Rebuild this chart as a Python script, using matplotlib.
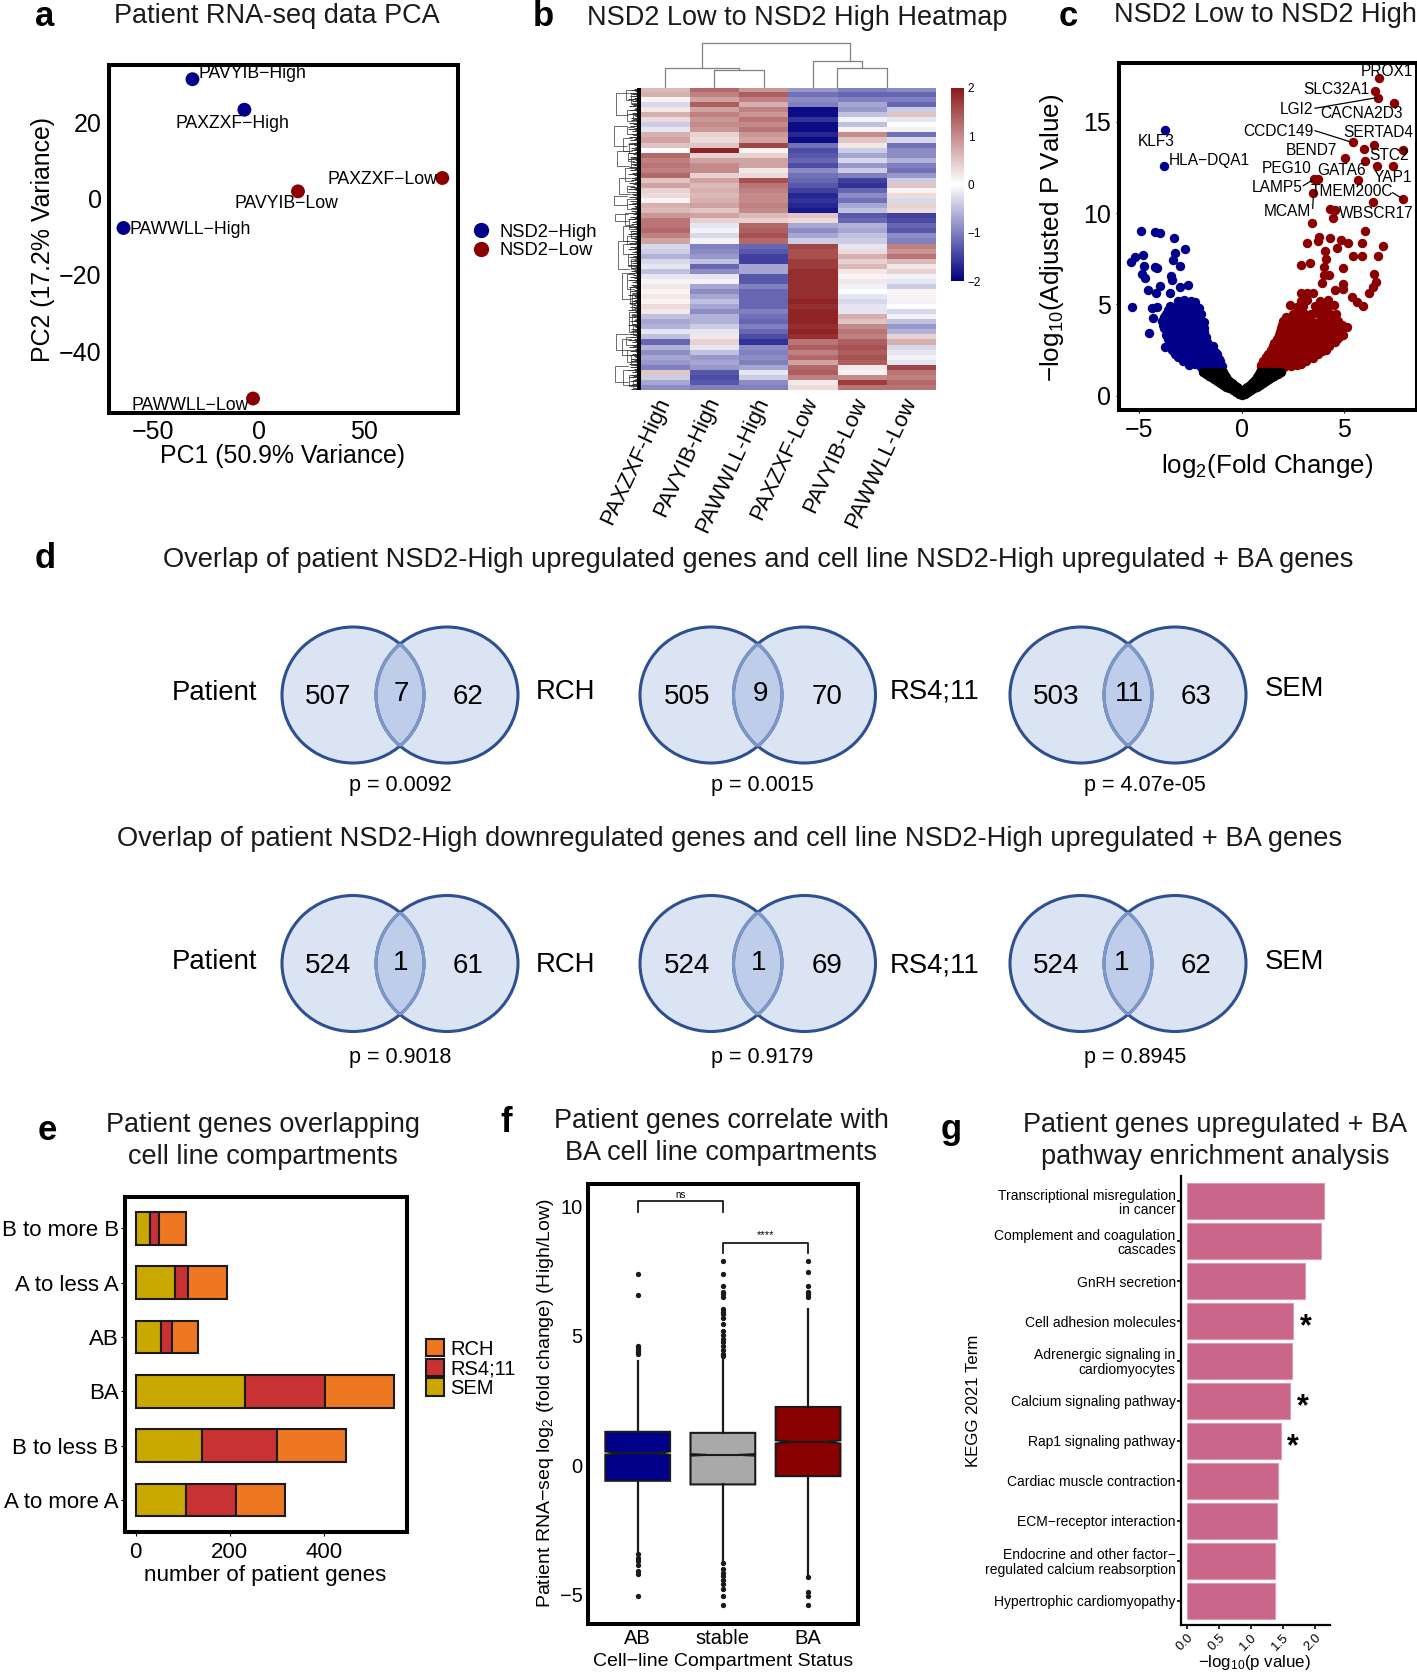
import numpy as np
import matplotlib
matplotlib.use("Agg")
import matplotlib.pyplot as plt
from matplotlib.colors import LinearSegmentedColormap
from matplotlib.lines import Line2D
from matplotlib.patches import Ellipse, Patch
from matplotlib.transforms import ScaledTranslation

plt.rcParams['font.family'] = ['Liberation Sans', 'DejaVu Sans']
plt.rcParams['mathtext.fontset'] = 'custom'
plt.rcParams['mathtext.rm'] = 'Liberation Sans'
plt.rcParams['mathtext.default'] = 'regular'

W, H = 1417, 1672
NAVY, DRED = '#00008B', '#8B0000'

# a: PCA
pca_names = ['PAVYIB−High', 'PAXZXF−High', 'PAWWLL−High', 'PAXZXF−Low', 'PAVYIB−Low', 'PAWWLL−Low']
pca_x = [-31.3, -6.7, -64.0, 87.1, 18.7, -2.6]
pca_y = [31.3, 23.3, -7.7, 5.4, 1.9, -52.4]
pca_col = [NAVY, NAVY, NAVY, DRED, DRED, DRED]

# b: heatmap rows, one list per sample
heat_samples = ['PAXZXF-High', 'PAVYIB-High', 'PAWWLL-High', 'PAXZXF-Low', 'PAVYIB-Low', 'PAWWLL-Low']
h1 = [0.6, 0.7, 0.1, -0.3, 0.2, 0.7, 0.3, -0.4, -0.2, 0.7, 0.8, 0.5, 0.0, 1.3, 1.1, 1.2, 1.1, 1.3, 0.5, 0.8,
      0.4, 0.3, 0.1, 0.7, 0.6, 0.9, 1.2, 1.2, 1.3, 1.1, 0.8, -0.3, -0.4, -0.6, -0.3, -0.2, -0.5, -0.2, 0.1, 0.2,
      0.1, 0.2, 0.1, 0.3, 0.2, -0.5, -0.7, -0.6, -0.2, -0.5, -1.2, -0.6, -0.9, -0.7, -0.8, -1.0, 0.5, -0.4, -0.7, -0.9]
h2 = [1.3, 1.1, 0.8, 1.4, 0.8, 1.1, 0.9, 1.0, 0.9, 0.4, 0.3, 0.5, 1.9, 0.4, 0.8, 1.0, 1.0, 0.4, 0.8, 0.6,
      0.7, 0.6, 0.7, 0.8, 0.5, 0.8, 0.4, -0.2, -0.1, -0.3, -0.1, -1.0, -0.9, -0.8, -0.5, -1.2, -0.9, -0.2, -0.1, -0.7,
      -0.9, -0.7, -0.5, -0.7, -0.9, -0.6, -0.6, -0.4, -0.2, 0.2, 0.4, -0.2, -0.5, -0.8, -0.7, -0.8, -1.3, -1.4, -1.3, -1.0]
h3 = [0.9, 1.4, 1.1, 0.7, 1.1, 0.9, 1.2, 1.0, 1.2, 0.9, 0.8, 1.6, 0.1, 0.4, 0.8, 0.8, 0.2, 0.3, 1.5, 1.2,
      1.1, 1.0, 1.0, 1.1, 1.0, 0.6, 0.4, 1.3, 1.4, 1.5, 1.3, -1.2, -1.3, -1.5, -1.5, -0.7, -0.7, -1.3, -1.3, -1.0,
      -1.2, -1.2, -1.2, -1.2, -1.0, -1.1, -1.2, -1.0, -1.2, -1.4, -1.6, -0.9, -1.0, -0.9, -1.0, -0.7, -0.2, -0.4, -0.9, -1.0]
h4 = [-0.8, -1.1, -0.9, -1.0, -1.9, -1.9, -1.6, -1.9, -1.9, -1.7, -1.9, -1.1, -1.4, -1.3, -1.2, -1.4, -0.9, -1.1, -1.2, -1.3,
      -1.5, -1.7, -1.6, -1.7, -1.8, 0.5, 0.3, -0.7, -0.9, -0.7, -0.4, 1.6, 1.5, 1.5, 1.7, 1.7, 1.8, 1.8, 1.8, 1.8,
      1.8, 1.8, 1.9, 1.8, 1.9, 1.9, 1.9, 1.8, 1.9, 1.8, 1.2, 1.4, 1.1, 1.3, 0.8, 1.3, 1.4, 1.1, 0.2, 0.3]
h5 = [-1.0, -1.2, -1.0, -0.7, -0.8, -0.5, -0.1, -0.5, 0.1, 1.0, 0.5, 0.2, -0.4, -0.7, -0.3, -0.8, -0.4, -1.0, -1.5, -1.6,
      -1.2, -0.9, -1.1, -0.7, -0.5, -1.3, -1.2, -0.6, -0.7, -0.5, -0.4, -0.2, 0.3, 0.7, 0.4, 0.6, 0.2, 0.1, 0.2, -0.1,
      0.0, -0.2, -0.3, -0.2, -0.2, 0.7, 0.5, 1.0, 1.2, 1.1, 1.4, 1.5, 1.4, 1.5, 1.4, 0.2, 0.1, 1.0, 1.7, 1.2]
h6 = [-0.9, -1.2, -1.0, -1.2, -0.4, 0.5, -0.2, 0.0, -0.1, -1.1, -0.3, -1.1, -0.9, -0.9, -0.6, -1.0, -1.1, -0.8, -0.4, 0.5,
      0.1, 0.3, -0.3, 0.4, 0.3, -1.5, -1.4, -1.2, -1.3, -0.9, -1.0, 1.1, 0.9, 1.2, 0.6, 0.2, 0.4, -0.1, -0.2, -0.4,
      0.1, 0.1, -0.1, 0.0, -0.3, -0.1, -0.5, -0.8, -0.6, 0.4, 0.7, -0.3, -0.2, -0.1, -0.2, 1.6, 1.2, 1.1, 1.3, 1.2]
# row dendrogram branches: first row, last row, depth in px
branch_top = [0.5, 1.0, 4.5, 1.2, 5, 7.5, 7.8, 10, 11, 12.5, 13, 14, 16, 18, 19.5, 21.5, 22, 25, 24.8, 26, 27.5, 28.5,
              29.5, 30.5, 31, 33, 34, 36.8, 37, 39.5, 41, 44.5, 45, 47, 49, 49.5, 50, 52, 53, 55.3, 56, 57, 58]
branch_bot = [2.5, 5.5, 6.5, 3.0, 6.2, 11.5, 9.2, 12.5, 13, 15.5, 14.5, 16, 18.5, 21, 20.8, 23.2, 24, 26.5, 27.2, 28, 30.5, 29.8,
              31, 36, 33, 35.5, 36, 42, 40, 43, 44, 48.5, 47, 49, 52, 51, 53, 54.5, 55, 58.5, 59, 59.3, 59.7]
branch_depth = [15, 25, 14, 10, 8, 27, 14, 18, 12, 24, 13, 10, 16, 22, 14, 27, 14, 26, 16, 12, 18, 10,
                14, 23, 18, 13, 10, 19, 14, 11, 9, 12, 9, 8, 25, 15, 19, 14, 10, 26, 18, 12, 8]
leaf_depth = [7, 10, 6, 12, 8, 5, 11, 7, 13, 6, 9, 5, 10, 8, 12, 6, 7, 11, 5, 9, 13, 7, 6, 10]

# c: volcano, hand read points
blue_x = [-4.93, -4.23, -3.99, -3.32, -2.77, -3.27, -3.34, -3.01, -5.41, -5.21, -4.84, -4.80, -4.23, -4.12, -4.89, -3.47,
          -3.42, -4.72, -4.56, -3.99, -4.19, -3.01, -2.61, -3.50, -5.37, -4.40, -4.15, -4.32, -4.51, -3.75, -3.76, -3.78,
          -3.1, -2.8, -2.5, -2.3, -3.5, -3.2, -2.9, -2.6, -2.3, -2.1, -3.7, -3.4, -3.1, -2.8, -2.5, -2.2, -2.0,
          -3.9, -3.6, -3.3, -3.0, -2.7, -2.4, -2.1, -1.85, -3.8, -3.5, -3.2, -2.9, -2.6, -2.3, -2.0, -1.85,
          -3.7, -3.4, -3.1, -2.8, -2.5, -2.2, -1.9, -1.75, -3.5, -3.2, -2.9, -2.6, -2.3, -2.0, -1.7, -1.5,
          -3.4, -3.1, -2.8, -2.5, -2.2, -1.9, -1.6, -1.3, -3.1, -2.8, -2.5, -2.2, -1.9, -1.6, -1.3, -1.1,
          -2.6, -2.3, -2.0, -1.7, -1.4, -1.1, -0.95]
blue_y = [9.03, 8.94, 8.91, 8.61, 8.05, 7.79, 7.43, 7.12, 7.32, 7.61, 7.70, 7.12, 7.06, 6.99, 6.66, 6.57,
          6.33, 6.42, 5.78, 6.00, 5.60, 5.93, 6.09, 5.60, 4.87, 4.78, 4.87, 4.23, 3.41, 2.68, 14.53, 12.6,
          5.2, 5.25, 5.2, 5.15, 4.9, 4.85, 4.9, 4.95, 4.85, 4.8, 4.5, 4.55, 4.5, 4.45, 4.5, 4.55, 4.45,
          4.1, 4.05, 4.15, 4.1, 4.05, 4.1, 4.15, 4.05, 3.7, 3.75, 3.65, 3.7, 3.75, 3.7, 3.65, 3.7,
          3.3, 3.35, 3.25, 3.3, 3.3, 3.25, 3.35, 3.2, 2.9, 2.85, 2.95, 2.9, 2.85, 2.9, 2.95, 2.7,
          2.5, 2.55, 2.45, 2.5, 2.55, 2.5, 2.45, 2.4, 2.1, 2.15, 2.05, 2.1, 2.15, 2.05, 2.1, 2.0,
          1.7, 1.75, 1.7, 1.65, 1.7, 1.75, 1.65]
blue_fill_y = [4.7, 4.3, 3.9, 3.5, 3.1, 2.7, 2.3, 1.9, 1.55]
blue_fill_x = [[-3.6, -3.0, -2.7, -2.4],
               [-3.8, -3.5, -3.2, -2.9, -2.6, -2.3],
               [-3.85, -3.45, -3.15, -2.85, -2.55, -2.25, -1.95],
               [-3.65, -3.35, -3.05, -2.75, -2.45, -2.15, -1.85],
               [-3.6, -3.25, -2.95, -2.65, -2.35, -2.05, -1.8],
               [-3.45, -3.15, -2.85, -2.55, -2.25, -1.95, -1.65, -1.4],
               [-3.25, -2.95, -2.65, -2.35, -2.05, -1.75, -1.45, -1.2],
               [-2.85, -2.55, -2.25, -1.95, -1.65, -1.35, -1.05],
               [-2.0, -1.7, -1.4, -1.15]]
red_x = [6.69, 6.51, 6.64, 7.44, 5.42, 6.47, 5.98, 7.87, 5.03, 6.01, 6.61, 7.38, 5.70, 3.53, 3.75, 3.50, 7.88, 6.40, 4.32, 4.56,
         4.48, 3.44, 6.03, 3.76, 3.75, 4.32, 3.21, 4.87, 5.21, 5.90, 4.64, 6.92, 4.07, 4.12, 5.42, 5.90, 6.68, 2.90, 3.34, 4.02,
         4.95, 4.02, 4.28, 6.48, 3.94, 6.56, 6.43, 4.93, 4.93, 4.56, 6.22, 5.37, 5.62, 5.91, 2.36, 5.13, 4.93,
         2.9, 3.2, 3.5, 2.9, 3.2, 3.8, 4.2, 2.7, 3.0, 3.6, 3.9, 4.2, 4.5,
         2.5, 2.8, 3.1, 3.4, 3.7, 4.0, 4.3, 4.6, 2.0, 2.3, 2.6, 2.9, 3.2, 3.5, 3.8, 4.1, 4.4, 4.7,
         1.9, 2.2, 2.5, 2.8, 3.1, 3.4, 3.7, 4.0, 4.3, 4.6, 4.85, 1.8, 2.1, 2.4, 2.7, 3.0, 3.3, 3.6, 3.9, 4.2, 4.5, 4.75,
         1.6, 1.9, 2.2, 2.5, 2.8, 3.1, 3.4, 3.7, 4.0, 4.3, 4.55, 1.45, 1.8, 2.1, 2.4, 2.7, 3.0, 3.3, 3.6, 3.9, 4.1,
         1.2, 1.5, 1.8, 2.1, 2.4, 2.7, 3.0, 3.3, 3.5, 0.95, 1.2, 1.5, 1.8, 2.1, 2.4, 2.7, 2.9]
red_y = [17.39, 16.70, 16.31, 16.04, 13.87, 13.72, 13.50, 13.45, 12.99, 12.85, 12.59, 12.59, 11.79, 11.86, 11.86, 11.08, 10.78, 10.60, 10.22, 10.16,
         9.74, 9.47, 9.03, 8.70, 8.49, 8.61, 8.34, 8.52, 8.34, 8.34, 8.07, 8.21, 7.94, 7.46, 7.66, 7.66, 7.66, 7.15, 7.28, 7.06,
         6.97, 6.61, 6.61, 6.66, 6.15, 6.24, 5.97, 6.11, 5.82, 5.78, 5.60, 5.42, 5.15, 4.93, 4.98, 3.74, 3.32,
         5.6, 5.65, 5.6, 5.2, 5.25, 5.2, 5.25, 4.85, 4.9, 4.9, 4.85, 4.9, 4.95,
         4.5, 4.55, 4.45, 4.5, 4.55, 4.5, 4.45, 4.5, 4.1, 4.15, 4.05, 4.1, 4.15, 4.05, 4.1, 4.15, 4.05, 4.1,
         3.7, 3.75, 3.65, 3.7, 3.75, 3.65, 3.7, 3.75, 3.65, 3.7, 3.75, 3.3, 3.35, 3.25, 3.3, 3.35, 3.25, 3.3, 3.35, 3.25, 3.3, 3.2,
         2.9, 2.95, 2.85, 2.9, 2.95, 2.85, 2.9, 2.95, 2.85, 2.9, 2.95, 2.5, 2.55, 2.45, 2.5, 2.55, 2.45, 2.5, 2.55, 2.45, 2.5,
         2.1, 2.15, 2.05, 2.1, 2.15, 2.05, 2.1, 2.15, 2.05, 1.7, 1.75, 1.65, 1.7, 1.75, 1.65, 1.7, 1.75]
red_fill_y = [4.3, 3.9, 3.5, 3.1, 2.7, 2.3, 1.9, 1.55]
red_fill_x = [[2.15, 2.45, 2.75, 3.05, 3.35, 3.95, 4.25, 4.55],
              [1.95, 2.25, 2.55, 2.85, 3.15, 3.45, 3.75, 4.05, 4.35, 4.65, 4.9],
              [1.85, 2.15, 2.45, 2.75, 3.05, 3.35, 3.65, 3.95, 4.25, 4.55, 4.8],
              [1.7, 2.0, 2.3, 2.6, 2.9, 3.2, 3.5, 3.8, 4.1, 4.4, 4.65],
              [1.55, 1.85, 2.15, 2.45, 2.75, 3.05, 3.35, 3.65, 3.95, 4.25],
              [1.3, 1.65, 1.95, 2.25, 2.55, 2.85, 3.15, 3.45, 3.75],
              [1.05, 1.35, 1.65, 1.95, 2.25, 2.55, 2.85, 3.15],
              [0.95, 1.15, 1.45, 1.75, 2.05]]
black_y = [1.32, 1.2, 1.1, 1.0, 0.9, 0.8, 0.7, 0.6, 0.5, 0.4, 0.3, 0.2, 0.1, 0.02]
black_x = [[-1.9, -1.7, -1.5, -1.3, -1.1, -0.9, 0.9, 1.1, 1.3, 1.5, 1.7, 1.9],
           [-1.75, -1.5, -1.3, -1.1, -0.85, 0.85, 1.1, 1.3, 1.5, 1.75],
           [-1.6, -1.4, -1.2, -1.0, -0.8, 0.8, 1.0, 1.2, 1.4, 1.6],
           [-1.5, -1.25, -1.05, -0.75, 0.75, 1.05, 1.25, 1.5],
           [-1.35, -1.15, -0.95, -0.7, 0.7, 0.95, 1.15, 1.35],
           [-1.2, -1.0, -0.8, -0.6, 0.6, 0.8, 1.0, 1.2],
           [-1.05, -0.85, -0.65, -0.5, 0.5, 0.65, 0.85, 1.05],
           [-0.9, -0.7, -0.5, -0.38, 0.38, 0.5, 0.7, 0.9],
           [-0.75, -0.55, -0.35, -0.25, 0.25, 0.35, 0.55, 0.75],
           [-0.6, -0.4, -0.2, 0.2, 0.4, 0.6],
           [-0.45, -0.25, -0.1, 0.1, 0.25, 0.45],
           [-0.3, -0.12, 0.0, 0.12, 0.3],
           [-0.15, 0.0, 0.15],
           [0.0]]

# d: venn counts
venn_left = [507, 505, 503, 524, 524, 524]
venn_mid = [7, 9, 11, 1, 1, 1]
venn_right = [62, 70, 63, 61, 69, 62]
venn_line = ['RCH', 'RS4;11', 'SEM', 'RCH', 'RS4;11', 'SEM']
venn_p = ['p = 0.0092', 'p = 0.0015', 'p = 4.07e-05', 'p = 0.9018', 'p = 0.9179', 'p = 0.8945']

# e: stacked bars
comp_names = ['A to more A', 'B to less B', 'BA', 'AB', 'A to less A', 'B to more B']
sem_n = [107, 141, 233, 53, 83, 31]
rs411_n = [106, 160, 169, 24, 29, 19]
rch_n = [104, 147, 147, 56, 83, 57]

# f: box stats
box_names = ['AB', 'stable', 'BA']
box_q1 = [-0.60, -0.74, -0.42]
box_med = [0.47, 0.40, 0.90]
box_q3 = [1.29, 1.25, 2.25]
box_lo = [-3.35, -3.71, -4.28]
box_hi = [4.03, 4.17, 6.03]
box_ci = [0.06, 0.03, 0.06]
box_fliers = [
    [7.39, 6.59, 4.6, 4.53, 4.46, 4.38, 4.31, -3.42, -3.57, -3.71, -3.85, -4.07, -4.21, -5.04],
    [7.88, 7.39, 6.93, 6.7, 6.6, 6.5, 6.03, 5.93, 5.82, 5.67, 5.46, 5.17, 5.03, 4.89, 4.74, 4.6, 4.46, 4.31, 4.2,
     -3.78, -4.0, -4.14, -4.28, -4.43, -4.57, -4.79, -5.03, -5.4],
    [7.88, 7.46, 6.93, 6.7, 6.6, 6.5, -4.33, -4.89, -5.03, -5.4],
]
box_cols = [NAVY, '#A9A9A9', DRED]

# g: pathways
kegg_terms = ['Hypertrophic cardiomyopathy', 'Endocrine and other factor−\nregulated calcium reabsorption',
              'ECM−receptor interaction', 'Cardiac muscle contraction', 'Rap1 signaling pathway',
              'Calcium signaling pathway', 'Adrenergic signaling in\ncardiomyocytes', 'Cell adhesion molecules',
              'GnRH secretion', 'Complement and coagulation\ncascades', 'Transcriptional misregulation\nin cancer']
kegg_vals = [1.373, 1.373, 1.40, 1.415, 1.462, 1.603, 1.634, 1.66, 1.84, 2.09, 2.136]
kegg_star = [1.65, 1.817, 1.854]
kegg_star_idx = [4, 5, 7]

fig = plt.figure(figsize=(W / 100, H / 100), dpi=100)


def add(x0, y0, x1, y1):
    return fig.add_axes([x0 / W, 1 - y1 / H, (x1 - x0) / W, (y1 - y0) / H])


def frame(ax, lw=2.9):
    for s in ax.spines.values():
        s.set_linewidth(lw)


def rows_to_xy(xs, ys):
    # flatten rows of x values with one y per row
    out_x, out_y = [], []
    for row, y in zip(xs, ys):
        for x in row:
            out_x.append(x)
            out_y.append(y)
    return out_x, out_y


# overlay in pixel coords for free text and venns
ov = fig.add_axes([0, 0, 1, 1], zorder=5)
ov.set_xlim(0, W)
ov.set_ylim(H, 0)
ov.axis('off')


def T(x, y, s, size=19.5, ha='center', va='center', **kw):
    ov.text(x, y, s, fontsize=size, ha=ha, va=va, **kw)


for lab, x, y in [('a', 45, 16.5), ('b', 543, 16.5), ('c', 1068, 17), ('d', 45, 558),
                  ('e', 47, 1131), ('f', 506, 1123), ('g', 951, 1129)]:
    T(x, y, lab, size=25, fontweight='bold')

TC = '#1a1a1a'
T(277, 16, 'Patient RNA-seq data PCA', color=TC)
T(797, 18, 'NSD2 Low to NSD2 High Heatmap', color=TC)
T(1265, 15, 'NSD2 Low to NSD2 High', color=TC)
T(758, 560, 'Overlap of patient NSD2-High upregulated genes and cell line NSD2-High upregulated + BA genes', color=TC, size=19.6)
T(730, 839, 'Overlap of patient NSD2-High downregulated genes and cell line NSD2-High upregulated + BA genes', color=TC, size=19.6)
T(262.5, 1141.5, 'Patient genes overlapping\ncell line compartments', color=TC, linespacing=1.3)
T(721, 1136.5, 'Patient genes correlate with\nBA cell line compartments', color=TC, linespacing=1.3)
T(1215, 1140.5, 'Patient genes upregulated + BA\npathway enrichment analysis', color=TC, linespacing=1.3)

# panel a
ax = add(108.7, 64.7, 457.5, 413)
ax.scatter(pca_x, pca_y, c=pca_col, s=100, zorder=3, linewidths=0)
ax.set_xlim(-71, 94.3)
ax.set_ylim(-56.2, 35.1)
ax.set_xticks([-50, 0, 50])
ax.set_yticks([-40, -20, 0, 20])
ax.tick_params(labelsize=18, length=0, pad=5)
frame(ax)
T(282.7, 455.5, 'PC1 (50.9% Variance)', size=17.9)
T(43, 240, 'PC2 (17.2% Variance)', size=17.9, rotation=90)
for name, x, y, ha in zip(pca_names,
                          [198.5, 232, 129.7, 382.8, 286.7, 190],
                          [73.3, 123, 229.5, 179, 204, 405],
                          ['left', 'center', 'left', 'center', 'center', 'center']):
    T(x, y, name, size=12.7, ha=ha)
fig.legend(handles=[Line2D([], [], ls='', marker='o', ms=10, color=NAVY, label='NSD2−High'),
                    Line2D([], [], ls='', marker='o', ms=10, color=DRED, label='NSD2−Low')],
           loc='center left', bbox_to_anchor=(472 / W, 1 - 241.5 / H), frameon=False, fontsize=13.2,
           labelspacing=0.08, handlelength=1, handletextpad=0.5, borderpad=0, borderaxespad=0)

# panel b
cmap = LinearSegmentedColormap.from_list('nsd2', ['#000080', 'white', '#8B1A1A'])
heat = np.array([h1, h2, h3, h4, h5, h6]).T
ax = add(640.7, 87.8, 935.7, 389.8)
im = ax.imshow(heat, aspect='auto', cmap=cmap, vmin=-2, vmax=2, interpolation='nearest')
ax.set_yticks([])
ax.set_xticks(range(6))
ax.set_xticklabels(heat_samples, rotation=65, ha='right', va='top', rotation_mode='anchor', fontsize=15.9)
ax.tick_params(length=0, pad=3)
shift = ScaledTranslation(-0.10, 0, fig.dpi_scale_trans)
for lbl in ax.get_xticklabels():
    lbl.set_transform(lbl.get_transform() + shift)
for s in ax.spines.values():
    s.set_visible(False)

cax = add(950.7, 87.8, 963.7, 281)
cb = fig.colorbar(im, cax=cax)
cb.set_ticks([-2, -1, 0, 1, 2])
cb.outline.set_visible(False)
cb.ax.tick_params(labelsize=8.5, length=0, pad=3)

dtop = add(640.7, 40, 935.7, 87.8)
dtop.axis('off')
dtop.set_xlim(-0.5, 5.5)
dtop.set_ylim(0, 47.8)
for xs, ys in [((0, 0, 1.5, 1.5), (0, 19.6, 19.6, 18.2)), ((1, 1, 2, 2), (0, 18.2, 18.2, 0)),
               ((3, 3, 4, 4), (0, 26.5, 26.5, 19.6)), ((3.5, 3.5, 4.5, 4.5), (0, 19.6, 19.6, 0))]:
    dtop.plot(xs, ys, color='#808080', lw=0.9)
dtop.plot((0.75, 0.75, 3.75, 3.75), (19.6, 44.8, 44.8, 26.5), color='#808080', lw=0.9)

dleft = add(612, 87.8, 640.7, 389.8)
dleft.axis('off')
dleft.set_xlim(28.7, 0)
dleft.set_ylim(60, 0)
dleft.axvspan(0, 3.5, color='black', lw=0)
# fan of leaves next to the heatmap
leaf_rows = np.linspace(0.2, 59.8, 240)
dleft.hlines(leaf_rows, 0, np.resize(leaf_depth, 240), color='black', lw=0.55)
for a, b, d in zip(branch_top, branch_bot, branch_depth):
    dleft.plot((d * 0.5, d, d, d * 0.5), (a, a, b, b), color='#333333', lw=0.5)

# panel c
ax = add(1119, 63.3, 1416.7, 410)
bfx, bfy = rows_to_xy(blue_fill_x, blue_fill_y)
rfx, rfy = rows_to_xy(red_fill_x, red_fill_y)
kx, ky = rows_to_xy(black_x, black_y)
ax.scatter(blue_x + bfx, blue_y + bfy, c=NAVY, s=46, linewidths=0, zorder=2)
ax.scatter(red_x + rfx, red_y + rfy, c=DRED, s=46, linewidths=0, zorder=2)
ax.scatter(kx, ky, c='black', s=46, linewidths=0, zorder=3)
ax.set_xlim(-6.0, 8.55)
ax.set_ylim(-0.78, 18.2)
ax.set_xticks([-5, 0, 5])
ax.set_yticks([0, 5, 10, 15])
ax.tick_params(labelsize=18, length=2, pad=4)
frame(ax)
T(1266.7, 465.7, r'log$_2$(Fold Change)', size=18.7)
T(1051.7, 237.5, r'$-$log$_{10}$(Adjusted P Value)', size=18.7, rotation=90)
gene_names = ['PROX1', 'SLC32A1', 'LGI2', 'CACNA2D3', 'CCDC149', 'SERTAD4', 'BEND7', 'STC2', 'KLF3', 'HLA−DQA1',
              'PEG10', 'GATA6', 'YAP1', 'LAMP5', 'TMEM200C', 'MCAM', 'WBSCR17']
gene_px = [1386.7, 1336.7, 1296.7, 1361.7, 1278.7, 1378.3, 1311, 1388.7, 1156, 1209,
           1286.7, 1342, 1393.3, 1276.7, 1352, 1287.3, 1376]
gene_py = [71.3, 90, 109, 113.7, 131, 132.3, 150.3, 155.3, 141.7, 161,
           168.7, 170.3, 177.3, 187.7, 192, 211.3, 213.3]
for g, x, y in zip(gene_names, gene_px, gene_py):
    T(x, y, g, size=11.2)
for xs, ys in [((1315, 1376.7), (108.3, 97.7)), ((1315, 1350), (130.7, 141.7)), ((1303.3, 1312.7), (185.7, 180)),
               ((1312.7, 1313.3), (208.3, 196.7)), ((1392.7, 1401.7), (192.7, 198.3))]:
    ov.plot(xs, ys, color='black', lw=0.9)

# panel d
venn_cx = [(353, 447), (711, 804.5), (1081, 1175)]
num_x = [(328, 401, 468), (687, 760, 827), (1056, 1129, 1196)]
mid_x2 = [401, 759, 1122]
line_x = [565, 935, 1294]
p_x = [400, 762, 1145]
RX, RY = 71, 68
line_dy = [[0, 0, -3], [0, 0, -3]]
for row, (cy, p_y) in enumerate([(695, 786), (963.5, 1058)]):
    for j in range(3):
        k = row * 3 + j
        c1, c2 = venn_cx[j]
        for c in (c1, c2):
            ov.add_patch(Ellipse((c, cy), 2 * RX, 2 * RY, fc='#4472C4', alpha=0.19, lw=0))
            ov.add_patch(Ellipse((c, cy), 2 * RX, 2 * RY, fill=False, ec='#2F5090', lw=2.2))
        for a, b in [(c1, c2), (c2, c1)]:
            arc = Ellipse((a, cy), 2 * RX, 2 * RY, fill=False, ec='#7D97C6', lw=2.2)
            ov.add_patch(arc)
            arc.set_clip_path(Ellipse((b, cy), 2 * RX, 2 * RY, transform=ov.transData))
        nx = num_x[j]
        T(nx[0], cy + 2.5, str(venn_left[k]), size=20)
        T(nx[1] if row == 0 else mid_x2[j], cy - 1, str(venn_mid[k]), size=20)
        T(nx[2], cy + 2.5, str(venn_right[k]), size=20)
        T(line_x[j], cy + [-3, 1.5][row] + line_dy[row][j], venn_line[k], size=19.8)
        T(p_x[j] if row == 0 or j < 2 else 1135, p_y, venn_p[k], size=15.5)
    T(214, cy - 1.5, 'Patient', size=19.8)

# panel e
ax = add(125, 1196.7, 406.7, 1532.3)
pos = np.arange(len(comp_names))
sem_arr, rs_arr, rch_arr = np.array(sem_n), np.array(rs411_n), np.array(rch_n)
edge = dict(height=0.6, edgecolor='#1a1a1a', linewidth=1.5)
ax.barh(pos, sem_arr, color='#C9A800', **edge)
ax.barh(pos, rs_arr, left=sem_arr, color='#C93232', **edge)
ax.barh(pos, rch_arr, left=sem_arr + rs_arr, color='#EE7722', **edge)
ax.set_yticks(pos)
ax.set_yticklabels(comp_names, fontsize=16)
ax.set_xticks([0, 200, 400])
ax.set_xlim(-22.5, 576)
ax.set_ylim(-0.595, 5.58)
ax.tick_params(axis='x', labelsize=16, length=3, pad=4)
ax.tick_params(axis='y', length=3, pad=1.5)
frame(ax)
T(264.7, 1575.3, 'number of patient genes', size=16.1)
ax.legend(handles=[Patch(fc='#EE7722', ec='#1a1a1a', lw=1.5, label='RCH'),
                   Patch(fc='#C93232', ec='#1a1a1a', lw=1.5, label='RS4;11'),
                   Patch(fc='#C9A800', ec='#1a1a1a', lw=1.5, label='SEM')],
          loc='center left', bbox_to_anchor=(426 / W, 1 - 1368.5 / H), bbox_transform=fig.transFigure,
          frameon=False, fontsize=14.5, labelspacing=0, handlelength=0.9, handleheight=0.95,
          handletextpad=0.3, borderpad=0, borderaxespad=0)

# panel f
ax = add(588.3, 1183.9, 858.3, 1623.8)
stats = []
for i, nm in enumerate(box_names):
    stats.append(dict(label=nm, med=box_med[i], q1=box_q1[i], q3=box_q3[i], whislo=box_lo[i], whishi=box_hi[i],
                      fliers=box_fliers[i], cilo=box_med[i] - box_ci[i], cihi=box_med[i] + box_ci[i]))
bp = ax.bxp(stats, positions=[1, 2, 3], widths=0.76, shownotches=True, patch_artist=True,
            showcaps=False, flierprops=dict(marker='o', ms=2.8, mfc='#1a1a1a', mec='#1a1a1a'),
            medianprops=dict(color='#1a1a1a', lw=1.5), whiskerprops=dict(color='#1a1a1a', lw=1.6),
            boxprops=dict(edgecolor='#1a1a1a', lw=1.5))
for patch, col in zip(bp['boxes'], box_cols):
    patch.set_facecolor(col)
ax.set_xlim(0.42, 3.59)
ax.set_ylim(-6.12, 10.86)
ax.set_yticks([-5, 0, 5, 10])
ax.tick_params(labelsize=14.5, length=0, pad=4)
frame(ax)
ax.plot([1, 1, 2, 2], [9.76, 10.19, 10.19, 9.76], color='#1a1a1a', lw=1.3)
ax.plot([2, 2, 3, 3], [8.18, 8.57, 8.57, 8.18], color='#1a1a1a', lw=1.3)
ax.text(1.5, 10.45, 'ns', fontsize=7, ha='center', va='center')
ax.text(2.5, 8.88, '****', fontsize=8, ha='center', va='center')
T(722.7, 1661, 'Cell−line Compartment Status', size=14)
T(546, 1403.7, r'Patient RNA−seq log$_2$ (fold change) (High/Low)', size=14, rotation=90)

# panel g
ax = add(1181, 1176, 1330, 1624.5)
ypos = np.arange(len(kegg_terms))
ax.barh(ypos, kegg_vals, height=0.9, color='#C9668A', edgecolor='#DD9AB2', linewidth=0.8)
ax.set_yticks(ypos)
ax.set_yticklabels(kegg_terms, fontsize=10, linespacing=1.05)
ax.set_xlim(-0.1, 2.237)
ax.set_ylim(-0.595, 10.63)
ax.set_xticks([0, 0.5, 1.0, 1.5, 2.0])
ax.set_xticklabels(['0.0', '0.5', '1.0', '1.5', '2.0'], rotation=45, ha='right', va='top',
                   rotation_mode='anchor', fontsize=9.5)
ax.tick_params(length=3, width=1.2, pad=2)
ax.tick_params(axis='y', pad=0.8)
ax.spines[['top', 'right']].set_visible(False)
ax.spines[['left', 'bottom']].set_linewidth(1.6)
for v, i in zip(kegg_star, kegg_star_idx):
    ax.text(v, i - 0.16, '*', fontsize=22, fontweight='bold', ha='center', va='center')
T(1254, 1663, r'$-$log$_{10}$(p value)', size=12.2)
T(973, 1400.7, 'KEGG 2021 Term', size=12.1, rotation=90)

fig.savefig('out.png', dpi=100)
